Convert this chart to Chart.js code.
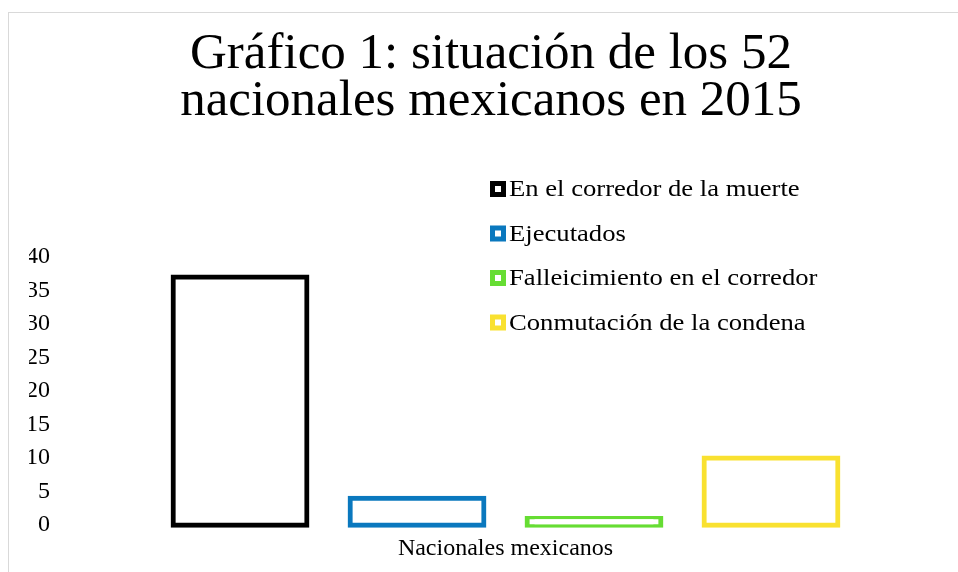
<!DOCTYPE html>
<html>
<head>
<meta charset="utf-8">
<script src="https://cdn.jsdelivr.net/npm/chart.js@4.4.1/dist/chart.umd.min.js"></script>
<style>
  html, body { margin: 0; padding: 0; background: #ffffff; }
  #wrap { position: relative; width: 958px; height: 572px; overflow: hidden; }
  #frame { position: absolute; left: 8px; top: 12px; width: 2000px; height: 2000px;
           border-left: 1px solid #d9d9d9; border-top: 1px solid #d9d9d9; box-sizing: border-box; }
  canvas { position: absolute; left: 0; top: 0; }
</style>
</head>
<body>
<div id="wrap">
  <div id="frame"></div>
  <canvas id="c" width="958" height="572"></canvas>
</div>
<script>
// ---- data ----
const categories = ["Nacionales mexicanos"];
const seriesNames = ["En el corredor de la muerte", "Ejecutados", "Falleicimiento en el corredor", "Conmutación de la condena"];
const enCorredor = [37];
const ejecutados = [4];
const fallecimiento = [1];
const conmutacion = [10];
const yTicks = [0, 5, 10, 15, 20, 25, 30, 35, 40];
const titleLines = ["Gráfico 1: situación de los 52", "nacionales mexicanos en 2015"];

const colors = ["#000000", "#0a78be", "#66dd33", "#f9e130"];
const seriesValues = [enCorredor, ejecutados, fallecimiento, conmutacion];
const FONT = "'Liberation Serif', 'Times New Roman', serif";

const datasets = seriesNames.map((name, i) => ({
  label: name,
  data: seriesValues[i],
  backgroundColor: "#ffffff",
  borderColor: colors[i],
  borderWidth: 5,
  borderSkipped: false,
  inflateAmount: 2.5,
  clip: false,
  barPercentage: 0.756,
  categoryPercentage: 0.791
}));

const legendPlugin = {
  id: "customLegend",
  afterDraw(chart) {
    const ctx = chart.ctx;
    ctx.save();
    ctx.font = "24px " + FONT;
    ctx.textBaseline = "middle";
    ctx.textAlign = "left";
    const x0 = 490, y0 = 189, step = 44.5, box = 16, bw = 5;
    chart.data.datasets.forEach((ds, i) => {
      const y = y0 + i * step;
      ctx.fillStyle = ds.borderColor;
      ctx.fillRect(x0, y - box / 2, box, box);
      ctx.fillStyle = "#ffffff";
      ctx.fillRect(x0 + bw, y - box / 2 + bw, box - 2 * bw, box - 2 * bw);
      ctx.fillStyle = "#000000";
      ctx.save();
      ctx.translate(x0 + box + 3, y);
      ctx.scale(1.11, 1);
      ctx.fillText(ds.label, 0, 1);
      ctx.restore();
    });
    ctx.restore();
  }
};

new Chart(document.getElementById("c"), {
  type: "bar",
  data: { labels: categories, datasets },
  plugins: [legendPlugin],
  options: {
    responsive: false,
    animation: false,
    devicePixelRatio: 1,
    layout: { padding: { left: 29, right: 5, top: 0, bottom: 0 } },
    plugins: {
      legend: { display: false },
      tooltip: { enabled: false },
      title: {
        display: true,
        text: titleLines,
        color: "#000000",
        font: { family: FONT, size: 51, weight: "normal", lineHeight: 0.92 },
        padding: { top: 31, bottom: 132 }
      }
    },
    scales: {
      x: {
        grid: { display: false, drawTicks: false },
        border: { display: false },
        ticks: { color: "#000000", font: { family: FONT, size: 24 }, padding: 9 }
      },
      y: {
        min: 0, max: 40,
        afterBuildTicks(scale) { scale.ticks = yTicks.map(v => ({ value: v })); },
        afterFit(scale) { scale.width = 29; },
        grid: { display: false, drawTicks: false },
        border: { display: false },
        ticks: { color: "#000000", font: { family: FONT, size: 24 }, padding: 8 }
      }
    }
  }
});
</script>
</body>
</html>
